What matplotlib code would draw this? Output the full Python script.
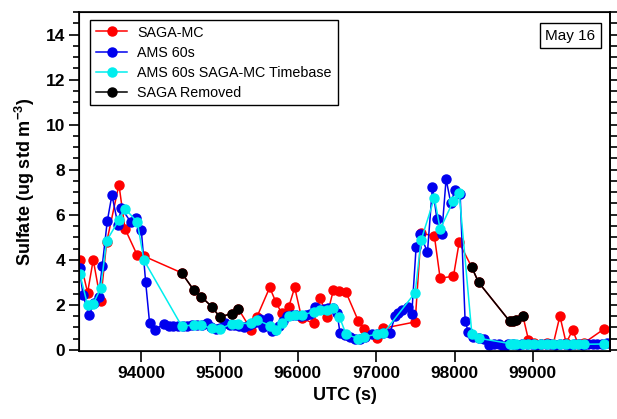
import matplotlib
matplotlib.use("Agg")
from matplotlib import pyplot as plt
from matplotlib.ticker import MultipleLocator

plt.rcParams['font.family'] = ['Liberation Sans', 'DejaVu Sans']
plt.rcParams['mathtext.fontset'] = 'custom'
plt.rcParams['mathtext.rm'] = 'Liberation Sans'
plt.rcParams['mathtext.bf'] = 'Liberation Sans:bold'
plt.rcParams['mathtext.default'] = 'bf'

# SAGA-MC timebase (UTC seconds) and sulfate
saga_t = [93217, 93315, 93387, 93481, 93558, 93715, 93792, 93949, 94034,
          94516, 94673, 94766, 94900, 95000, 95154, 95239,
          95403, 95478, 95640, 95719, 95793, 95884, 95959, 96049, 96201, 96287,
          96368, 96453, 96530, 96615, 96772, 96849, 97007, 97092, 97497, 97573,
          97743, 97816, 97986, 98059,
          98221, 98306, 98702, 98745, 98790, 98873,
          98944, 99020, 99100, 99180, 99260, 99345, 99425, 99507, 99580, 99650, 99910]
saga_mc = [4.0, 2.54, 4.0, 2.18, 4.77, 7.34, 5.38, 4.2, 4.16,
           3.42, 2.64, 2.36, 1.92, 1.47, 1.6, 1.82,
           0.9, 1.47, 2.77, 2.12, 1.62, 1.92, 2.77, 1.4, 1.18, 2.29,
           1.48, 2.65, 2.6, 2.55, 1.28, 0.94, 0.53, 0.96, 1.24, 5.19,
           5.04, 3.18, 3.27, 4.77,
           3.66, 3.0, 1.28, 1.3, 1.33, 1.5,
           0.44, 0.3, 0.28, 0.32, 0.26, 1.5, 0.3, 0.88, 0.25, 0.3, 0.93]
ams_on_saga = [3.36, 1.99, 2.04, 2.73, 4.84, 5.77, 6.27, 5.68, 3.98,
               1.06, 1.1, 1.1, 0.95, 0.92, 1.16, 1.17,
               1.18, 1.33, 1.08, 0.88, 1.21, 1.52, 1.55, 1.55, 1.68, 1.77,
               1.77, 1.84, 1.47, 0.69, 0.5, 0.59, 0.69, 0.74, 2.54, 4.87,
               6.75, 5.36, 6.62, 6.96,
               0.71, 0.52, 0.28, 0.27, 0.26, 0.25,
               0.25, 0.25, 0.24, 0.25, 0.25, 0.24, 0.25, 0.25, 0.24, 0.25, 0.26]

# SAGA points flagged as removed
removed_t = [94516, 94673, 94766, 94900, 95000, 95154, 95239,
             98221, 98306, 98702, 98745, 98790, 98873]
removed = [3.42, 2.64, 2.36, 1.92, 1.47, 1.6, 1.82,
           3.66, 3.0, 1.28, 1.3, 1.33, 1.5]

# AMS 60 s averages
ams_t = [93213, 93255, 93332, 93400, 93456, 93502, 93566, 93626, 93702, 93745,
         93865, 93936, 94000, 94056, 94107, 94171, 94290, 94350, 94410, 94473,
         94530, 94590, 94650, 94710, 94770, 94835, 94890, 94950, 95010, 95069,
         95130, 95190, 95250, 95310, 95370, 95430, 95490, 95516, 95559, 95622,
         95665, 95708, 95760, 95810, 95860, 95920, 95980, 96040, 96100, 96160,
         96219, 96270, 96330, 96390, 96453, 96500, 96538, 96602, 96666, 96730,
         96794, 96858, 96943, 97007, 97092, 97177, 97241, 97283, 97326, 97411,
         97454, 97509, 97560, 97654, 97718, 97774, 97837, 97892, 97952, 98007,
         98071, 98135, 98177, 98233, 98306, 98378, 98446, 98506, 98566, 98625,
         98685, 98745, 98805, 98865, 98925, 98985, 99045, 99105, 99165, 99225,
         99285, 99345, 99405, 99465, 99525, 99585, 99645, 99705, 99765, 99825,
         99885, 99945]
ams = [3.63, 2.45, 1.55, 2.07, 2.36, 3.73, 5.71, 6.88, 5.56, 6.3,
       5.68, 5.85, 5.34, 3.02, 1.18, 0.9, 1.14, 1.08, 1.05, 1.05,
       1.08, 1.08, 1.1, 1.12, 1.1, 1.18, 1.0, 0.92, 0.95, 1.18,
       1.1, 1.12, 1.05, 1.03, 1.1, 1.2, 1.22, 1.36, 1.03, 1.4,
       0.82, 0.88, 1.05, 1.3, 1.5, 1.55, 1.55, 1.5, 1.55, 1.6,
       1.92, 1.8, 1.8, 1.85, 1.84, 1.65, 0.74, 0.66, 0.55, 0.5,
       0.47, 0.59, 0.69, 0.7, 0.74, 0.76, 1.5, 1.65, 1.77, 1.92,
       1.6, 4.55, 5.16, 4.33, 7.25, 5.83, 5.16, 7.58, 6.52, 7.11,
       6.93, 1.28, 0.78, 0.59, 0.52, 0.49, 0.22, 0.28, 0.25, 0.1,
       0.26, 0.24, 0.22, 0.25, 0.27, 0.24, 0.22, 0.25, 0.28, 0.24,
       0.22, 0.26, 0.25, 0.23, 0.27, 0.24, 0.22, 0.26, 0.28, 0.25,
       0.27, 0.29]

fig = plt.figure(figsize=(6.17, 4.19), dpi=100)
ax = fig.add_axes([0.128, 0.1623, 0.8607, 0.8091])

ms = 6.5
lw = 1.1
ax.plot(saga_t, saga_mc, '-o', color='#ff0000', ms=ms, lw=lw, label='SAGA-MC')
ax.plot(ams_t, ams, '-o', color='#0000ee', ms=ms, lw=lw, label='AMS 60s')
ax.plot(saga_t, ams_on_saga, '-o', color='#00eeee', ms=ms, lw=lw,
        label='AMS 60s SAGA-MC Timebase')
ax.plot(removed_t[:7], removed[:7], '-o', color='black', ms=ms, lw=lw,
        label='SAGA Removed')
ax.plot(removed_t[7:], removed[7:], '-o', color='black', ms=ms, lw=lw)

ax.set_xlim(93205, 99985)
ax.set_ylim(-0.05, 15)

ax.xaxis.set_major_locator(MultipleLocator(1000))
ax.yaxis.set_major_locator(MultipleLocator(2))
ax.yaxis.set_minor_locator(MultipleLocator(0.5))

for s in ax.spines.values():
    s.set_linewidth(1.2)
ax.tick_params(axis='x', which='major', direction='out', length=8, width=1.2,
               pad=3, labelsize=12.5)
ax.tick_params(axis='x', which='minor', bottom=False)
ax.tick_params(axis='y', which='major', direction='out', length=7, width=1.2,
               pad=3, labelsize=12.5)
ax.tick_params(axis='y', which='minor', direction='out', length=4, width=1.2)
for lab in ax.get_xticklabels() + ax.get_yticklabels():
    lab.set_fontweight('bold')

# mirrored ticks on the right side, no labels
ax2 = ax.twinx()
ax2.set_ylim(ax.get_ylim())
ax2.yaxis.set_major_locator(MultipleLocator(0.5))
ax2.tick_params(axis='y', direction='out', length=5, width=1.2, labelright=False)
ax2.spines['right'].set_linewidth(1.2)

ax.set_xlabel('UTC (s)', fontsize=13, fontweight='bold', labelpad=4)
ax.set_ylabel(r'Sulfate (ug std m$^{-3}$)', fontsize=13, fontweight='bold',
              labelpad=6)

leg = ax.legend(loc='upper left', bbox_to_anchor=(0.021, 0.977), borderaxespad=0,
                fontsize=10.3, fancybox=False, edgecolor='black', framealpha=1,
                handlelength=2.2, handletextpad=0.7, labelspacing=0.42,
                borderpad=0.4)
leg.get_frame().set_linewidth(1.0)

ax.text(0.925, 0.93, 'May 16', transform=ax.transAxes, fontsize=11,
        ha='center', va='center',
        bbox=dict(boxstyle='square,pad=0.35', facecolor='white',
                  edgecolor='black', linewidth=1.0))

fig.savefig('out.png', dpi=100)
